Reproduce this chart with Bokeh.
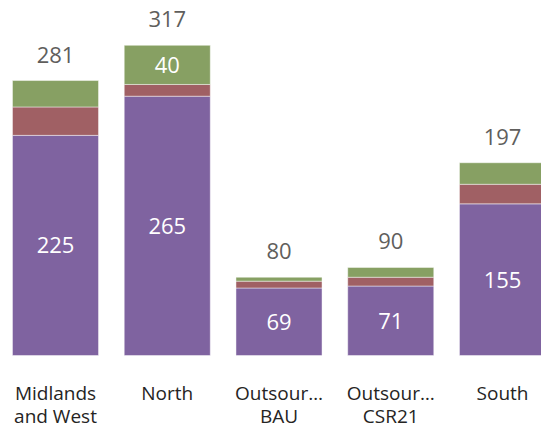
from bokeh.plotting import figure
from bokeh.models import Range1d, ColumnDataSource
from bokeh.core.properties import value
from bokeh.embed import file_html
from bokeh.resources import INLINE

# ---- data ----
categories = ["Midlands\nand West", "North", "Outsour\u2026\nBAU", "Outsour\u2026\nCSR21", "South"]
series_purple = [225, 265, 69, 71, 155]
series_red = [29, 12, 7, 9, 20]
series_green = [27, 40, 4, 10, 22]

colors = ["#7F63A0", "#A06064", "#87A063"]
FONT = "Open Sans"

xs = [i + 0.5 for i in range(len(categories))]
totals = [a + b + c for a, b, c in zip(series_purple, series_red, series_green)]

src = ColumnDataSource(dict(x=xs, purple=series_purple, red=series_red, green=series_green,
                            total=totals, total_txt=[str(t) for t in totals], cat=categories))

p = figure(width=541, height=429, output_backend="svg", toolbar_location=None,
           x_range=Range1d(0.0078, 4.849), y_range=Range1d(-75.6, 362.8),
           min_border=0, min_border_left=0, min_border_right=0, min_border_top=0, min_border_bottom=0)
p.axis.visible = False
p.grid.visible = False
p.outline_line_color = None
p.background_fill_color = "white"

p.vbar_stack(["purple", "red", "green"], x="x", width=0.77, source=src, color=colors,
             line_color="white", line_alpha=0.45, line_width=1)

# inside labels (segments large enough to hold a label)
lx, ly, lt = [], [], []
for i in range(len(categories)):
    base = 0
    for v in (series_purple[i], series_red[i], series_green[i]):
        if v >= 35:
            lx.append(xs[i]); ly.append(base + v / 2); lt.append(str(v))
        base += v
p.text(x=lx, y=ly, text=lt, text_align="center", text_baseline="middle",
       text_font=value(FONT), text_font_size="22px", text_color="white")

# totals
p.text(x="x", y="total", text="total_txt", source=src, text_align="center", text_baseline="bottom",
       y_offset=-18, text_font=value(FONT), text_font_size="22px", text_color="#605E5C")

# category labels
p.text(x="x", y=0, text="cat", source=src, text_align="center", text_baseline="top",
       y_offset=24, text_font=value(FONT), text_font_size="19px", text_color="#252423",
       text_line_height=0.9)

open("out.html", "w").write(file_html(p, INLINE))
